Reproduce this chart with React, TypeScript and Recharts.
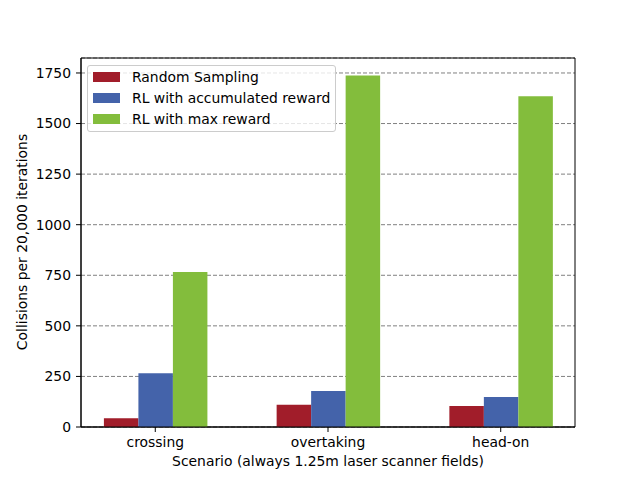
import { BarChart, Bar, XAxis, YAxis, CartesianGrid, Legend, ReferenceArea } from "recharts"

const categories = ["crossing", "overtaking", "head-on"]
const randomSampling = [43, 110, 104]
const accumulatedReward = [266, 178, 148]
const maxReward = [766, 1737, 1635]
const yTicks = [0, 250, 500, 750, 1000, 1250, 1500, 1750]

const series = [
  { key: "random", name: "Random Sampling", color: "#A11D2A" },
  { key: "accumulated", name: "RL with accumulated reward", color: "#4463AA" },
  { key: "max", name: "RL with max reward", color: "#83BD3C" },
]

const data = categories.map((name, i) => ({
  pos: i,
  name,
  random: randomSampling[i],
  accumulated: accumulatedReward[i],
  max: maxReward[i],
}))

const font = "'DejaVu Sans', sans-serif"
const fs = 13.9
const xDomain = [-0.43, 2.43]
const yMax = 1824

function LegendBox() {
  return (
    <div
      style={{
        boxSizing: "border-box",
        width: 249,
        height: 67,
        paddingTop: 0,
        border: "1px solid #cccccc",
        borderRadius: 3,
        background: "rgba(255,255,255,0.8)",
        fontFamily: font,
        fontSize: fs,
        color: "#000",
      }}
    >
      {series.map((s) => (
        <div key={s.key} style={{ height: 21, display: "flex", alignItems: "center" }}>
          <span
            style={{ display: "inline-block", width: 27, height: 10, marginLeft: 5, marginRight: 12, background: s.color }}
          />
          <span>{s.name}</span>
        </div>
      ))}
    </div>
  )
}

export default function App() {
  return (
    <div style={{ position: "absolute", left: 0, top: 0, background: "#fff" }}>
      <BarChart
        width={640}
        height={480}
        data={data}
        barGap={0}
        barSize={34.5}
        margin={{ top: 58, right: 65, bottom: 23, left: 21 }}
        style={{ fontFamily: font }}
      >
        <CartesianGrid vertical={false} stroke="#808080" strokeDasharray="4 2" />
        <XAxis
          dataKey="pos"
          type="number"
          domain={xDomain}
          ticks={[0, 1, 2]}
          allowDataOverflow
          tickFormatter={(v: number) => categories[v]}
          height={30}
          tickSize={5}
          tickMargin={5}
          tick={{ fill: "#000", fontSize: fs }}
          tickLine={{ stroke: "#000" }}
          axisLine={{ stroke: "#000" }}
          label={{
            content: () => (
              <text x={328} y={466} textAnchor="middle" fontSize={fs} fill="#000" fontFamily={font}>
                Scenario (always 1.25m laser scanner fields)
              </text>
            ),
          }}
        />
        <YAxis
          domain={[0, yMax]}
          ticks={yTicks}
          width={60}
          tickSize={5}
          tickMargin={5}
          tick={{ fill: "#000", fontSize: fs }}
          tickLine={{ stroke: "#000" }}
          axisLine={{ stroke: "#000" }}
          label={{
            content: () => (
              <text
                x={22}
                y={242}
                transform="rotate(-90 22 242)"
                textAnchor="middle"
                dominantBaseline="central"
                fontSize={fs}
                fill="#000"
                fontFamily={font}
              >
                Collisions per 20,000 iterations
              </text>
            ),
          }}
        />
        <Legend
          layout="vertical"
          align="center"
          verticalAlign="middle"
          content={<LegendBox />}
          wrapperStyle={{ position: "absolute", left: 87, top: 65, width: 249, height: 67 }}
        />
        {series.map((s) => (
          <Bar key={s.key} dataKey={s.key} name={s.name} fill={s.color} isAnimationActive={false} />
        ))}
        <ReferenceArea
          x1={xDomain[0]}
          x2={xDomain[1]}
          y1={0}
          y2={yMax}
          fill="none"
          fillOpacity={0}
          stroke="#000"
          strokeOpacity={1}
          strokeWidth={1}
          ifOverflow="visible"
        />
      </BarChart>
    </div>
  )
}
